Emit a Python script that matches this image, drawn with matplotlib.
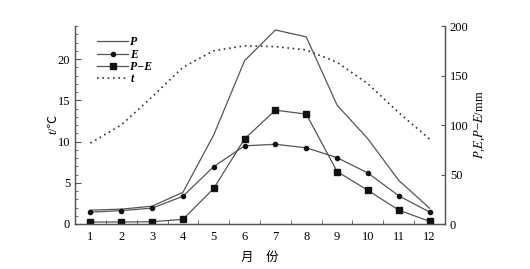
import matplotlib
matplotlib.use("Agg")
import matplotlib.pyplot as plt
import numpy as np

plt.rcParams['font.family'] = ['Liberation Serif', 'Noto Sans CJK SC']
plt.rcParams['mathtext.fontset'] = 'stix'

months = [1, 2, 3, 4, 5, 6, 7, 8, 9, 10, 11, 12]
# temperature (left axis)
t_vals = [9.8, 12.0, 15.4, 19.0, 21.0, 21.6, 21.5, 21.1, 19.6, 17.0, 13.5, 10.3]
# precipitation, evaporation, difference (right axis, mm)
P_vals = [14, 15, 18, 32, 90, 165, 196, 189, 120, 86, 44, 16]
E_vals = [12, 13.5, 16, 28, 58, 79, 80.5, 77, 67, 51.5, 28.5, 12]
PE_vals = [2, 2, 2.3, 4.7, 36, 86, 115, 111, 53, 34, 14, 2.7]

LINE = "#555555"

fig = plt.figure(figsize=(5.30, 2.69), dpi=100)
ax = fig.add_axes([75/530, 1 - 224/269, 370/530, 198/269])
ax2 = ax.twinx()

# left axis: temperature
lt, = ax.plot(months, t_vals, linestyle=(0, (1.0, 2.2)), color="#333333", lw=1.2, label="t")
ax.set_xlim(0.5, 12.5)
ax.set_ylim(0, 24)
ax.set_yticks([0, 5, 10, 15, 20])
ax.set_yticks(np.arange(0, 25, 1), minor=True)
ax.set_xticks(months)
ax.set_xticks(np.arange(1.5, 12.5, 1), minor=True)
ax.tick_params(axis="y", which="both", direction="in", labelsize=9, color=LINE)
ax.tick_params(axis="y", which="major", length=4)
ax.tick_params(axis="y", which="minor", length=2)
ax.tick_params(axis="x", which="major", length=0, labelsize=9, pad=5)
ax.tick_params(axis="x", which="minor", direction="in", length=3, color=LINE)

# left label: italic t + ℃
ax.text(-0.058, 0.47, "t", style="italic", rotation=90, fontsize=9,
        transform=ax.transAxes, ha="center", va="top")
ax.text(-0.058, 0.47, "/℃", rotation=90, fontsize=9,
        transform=ax.transAxes, ha="center", va="bottom")
ax.text(0.5, -0.14, "月　份", fontsize=9, transform=ax.transAxes,
        ha="center", va="top")

# right axis: P, E, P-E
lp, = ax2.plot(months, P_vals, color=LINE, lw=0.9, label="P")
le, = ax2.plot(months, E_vals, color=LINE, lw=0.9, marker="o", ms=3,
               mfc="#111111", mec="#111111", label="E")
lpe, = ax2.plot(months, PE_vals, color=LINE, lw=0.9, marker="s", ms=4,
                mfc="#111111", mec="#111111", label="P−E")
ax2.set_ylim(0, 200)
ax2.set_yticks([0, 50, 100, 150, 200])
ax2.tick_params(axis="y", direction="in", length=3, labelsize=9, color=LINE)
ax2.set_ylabel("$P$,$E$,$P$−$E$/mm", fontsize=9, labelpad=3)

for a in (ax, ax2):
    a.spines["top"].set_visible(False)
    for s in ("left", "right", "bottom"):
        a.spines[s].set_color(LINE)
        a.spines[s].set_linewidth(0.9)

leg = ax.legend(handles=[lp, le, lpe, lt], loc="upper left", frameon=False,
                prop=dict(size=8.5, style="italic", weight="bold"),
                handlelength=2.6, handletextpad=0.2,
                labelspacing=0.02, borderpad=0.3,
                bbox_to_anchor=(0.035, 0.995))

fig.savefig("out.png", dpi=100)
